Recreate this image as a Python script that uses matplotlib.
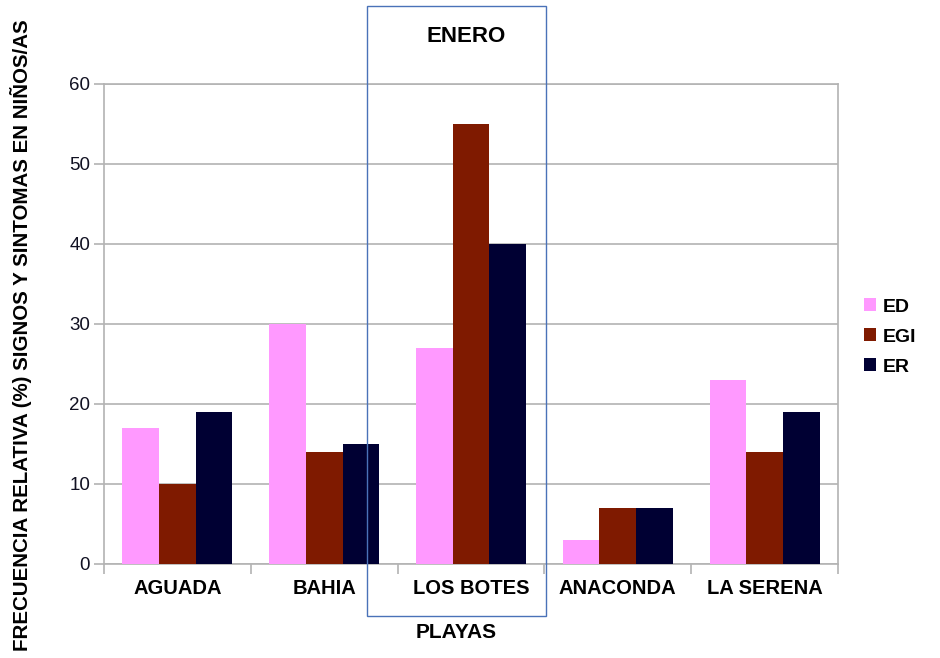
import numpy as np
import matplotlib
matplotlib.use('Agg')
import matplotlib.pyplot as plt
from matplotlib.patches import Rectangle

# data
playas = ['AGUADA', 'BAHIA', 'LOS BOTES', 'ANACONDA', 'LA SERENA']
series = ['ED', 'EGI', 'ER']
ed = [17, 30, 27, 3, 23]
egi = [10, 14, 55, 7, 14]
er = [19, 15, 40, 7, 19]
colores = ['#ff99ff', '#7f1a00', '#000033']
yticks = [0, 10, 20, 30, 40, 50, 60]

plt.rcParams['font.family'] = ['Liberation Sans', 'DejaVu Sans']

fig = plt.figure(figsize=(9.4, 6.58), dpi=100)
ax = fig.add_axes([104 / 940, 1 - 564 / 658, 734 / 940, 480 / 658])

x = np.arange(len(playas))
w = 0.25
for i, (vals, name) in enumerate(zip([ed, egi, er], series)):
    ax.bar(x + (i - 1) * w, vals, w, color=colores[i], label=name, zorder=3)

ax.set_xlim(-0.5, len(playas) - 0.5)
ax.set_ylim(0, 60)
ax.set_yticks(yticks)
ax.set_yticklabels([str(v) for v in yticks], fontsize=13.5, color='#111122')
ax.set_xticks(x)
ax.set_xticklabels(playas, fontsize=14.5, fontweight='bold')
ax.set_xticks(np.arange(len(playas) + 1) - 0.5, minor=True)
ax.tick_params(axis='x', which='major', length=0, pad=11)
ax.tick_params(axis='x', which='minor', length=7, color='#b3b3b3', width=1.2)
ax.tick_params(axis='y', length=7, color='#b3b3b3', width=1.2, pad=3)
ax.grid(axis='y', color='#b3b3b3', linewidth=1.2, zorder=0)
for s in ax.spines.values():
    s.set_color('#b3b3b3')
    s.set_linewidth(1.2)

fig.text(456 / 940, 1 - 633 / 658, 'PLAYAS', ha='center', va='center',
         fontsize=15, fontweight='bold')
fig.text(21 / 940, 1 - 335 / 658, 'FRECUENCIA RELATIVA (%) SIGNOS Y SINTOMAS EN NIÑOS/AS',
         rotation=90, ha='center', va='center', fontsize=14.8, fontweight='bold')

# title box
fig.patches.append(Rectangle((367 / 940, 1 - 616 / 658), 179 / 940, 610 / 658,
                             transform=fig.transFigure, fill=False,
                             edgecolor='#4a72b8', linewidth=1.0))
fig.text(466 / 940, 1 - 37 / 658, 'ENERO', ha='center', va='center',
         fontsize=16, fontweight='bold')

ax.legend(loc='center left', bbox_to_anchor=(1.011, 0.473), frameon=False,
          prop={'size': 14, 'weight': 'bold'}, handlelength=0.65, handleheight=0.65,
          labelspacing=0.65, handletextpad=0.35)

fig.savefig('out.png', dpi=100)
